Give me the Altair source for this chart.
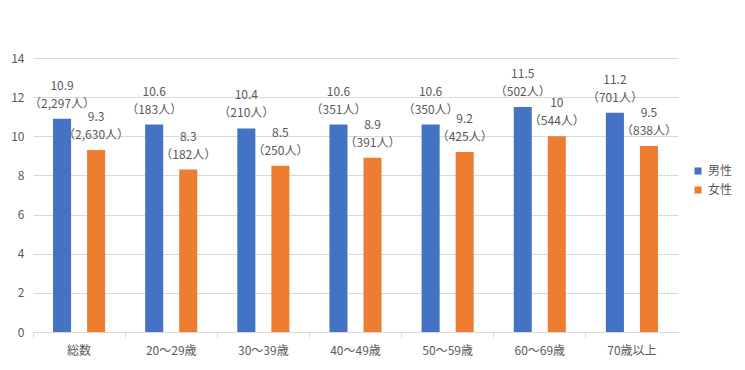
import altair as alt
import pandas as pd

categories = ["総数", "20～29歳", "30～39歳", "40～49歳", "50～59歳", "60～69歳", "70歳以上"]
male_values = [10.9, 10.6, 10.4, 10.6, 10.6, 11.5, 11.2]
female_values = [9.3, 8.3, 8.5, 8.9, 9.2, 10, 9.5]
male_counts = ["2,297", "183", "210", "351", "350", "502", "701"]
female_counts = ["2,630", "182", "250", "391", "425", "544", "838"]
series = ["男性", "女性"]
colors = ["#4472C4", "#ED7D31"]

rows = []
for i, c in enumerate(categories):
    for s, vals, cnts in ((series[0], male_values, male_counts), (series[1], female_values, female_counts)):
        v = vals[i]
        rows.append({"cat": c, "sex": s, "value": v,
                     "vtxt": f"{v:g}", "ntxt": f"（{cnts[i]}人）"})
df = pd.DataFrame(rows)

FONT = "Noto Sans CJK JP"

x = alt.X("cat:N", sort=categories, title=None,
          scale=alt.Scale(paddingInner=0, paddingOuter=0),
          axis=alt.Axis(labelAngle=0, bandPosition=0, domainColor="#D9D9D9",
                        tickColor="#D9D9D9", tickSize=5, labelColor="#595959",
                        labelFontSize=12, labelFont=FONT, labelPadding=8, grid=False))
xo = alt.XOffset("sex:N", sort=series,
                 scale=alt.Scale(paddingInner=0.47, paddingOuter=0.588))
y = alt.Y("value:Q", title=None,
          scale=alt.Scale(domain=[0, 14], nice=False),
          axis=alt.Axis(values=[0, 2, 4, 6, 8, 10, 12, 14], domain=False, ticks=False,
                        gridColor="#D9D9D9", labelColor="#595959", labelFontSize=12,
                        labelFont=FONT, labelPadding=9))
color = alt.Color("sex:N", sort=series,
                  scale=alt.Scale(domain=series, range=colors),
                  legend=alt.Legend(title=None, orient="none", legendX=659, legendY=107,
                                    symbolType="square", symbolSize=50, symbolStrokeWidth=0,
                                    labelFontSize=12, labelFont=FONT, labelColor="#595959",
                                    rowPadding=7))

bars = alt.Chart(df).mark_bar().encode(x=x, xOffset=xo, y=y, color=color)
count_text = alt.Chart(df).mark_text(baseline="bottom", dy=-8, fontSize=12, font=FONT,
                                     color="#595959").encode(
    x=x, xOffset=xo, y=y, text="ntxt:N")
value_text = alt.Chart(df).mark_text(baseline="bottom", dy=-26, fontSize=12, font=FONT,
                                     color="#595959").encode(
    x=x, xOffset=xo, y=y, text="vtxt:N")

chart = alt.layer(bars, count_text, value_text).properties(
    width=645, height=274,
    autosize=alt.AutoSizeParams(type="none"),
    padding={"left": 25, "top": 50, "right": 59, "bottom": 30},
).configure_view(stroke=None)

chart.save("out.html", embed_options={"renderer": "svg", "actions": False})
